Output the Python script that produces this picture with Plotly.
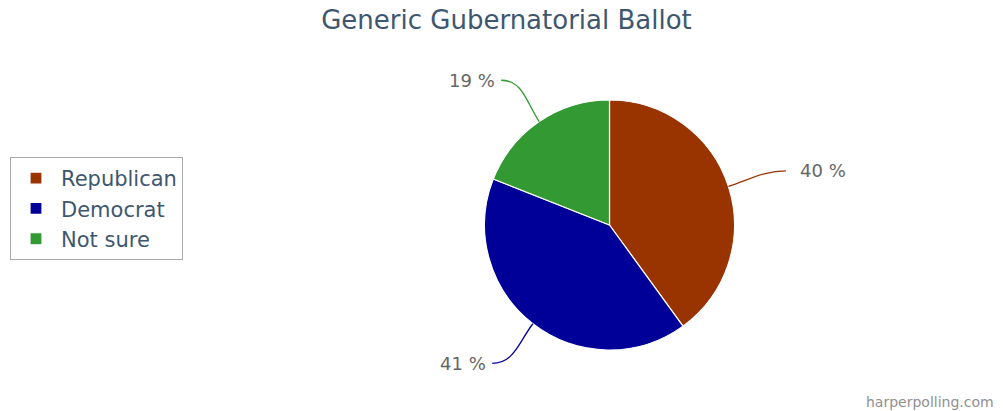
import math
import plotly.graph_objects as go

categories = ["Republican", "Democrat", "Not sure"]
values = [40, 41, 19]
colors = ["#993300", "#000099", "#339933"]
label_texts = [f"{v} %" for v in values]

W, H = 1003, 411
CX, CY, R = 609.5, 225, 125
DIST = 50
FONT = "DejaVu Sans, Verdana, sans-serif"

fig = go.Figure()
fig.add_trace(go.Pie(
    labels=categories, values=values, sort=False, direction="clockwise", rotation=0,
    marker=dict(colors=colors, line=dict(color="#ffffff", width=1.2)),
    textinfo="none", hoverinfo="label+percent",
    domain=dict(x=[(CX - R) / W, (CX + R) / W], y=[(H - CY - R) / H, (H - CY + R) / H]),
))

def px(x, y):
    return x / W, 1 - y / H

total = sum(values)
cum = 0
shapes, annotations = [], []
for v, c, t in zip(values, colors, label_texts):
    mid = (cum + v / 2) / total * 2 * math.pi
    cum += v
    s, co = math.sin(mid), -math.cos(mid)
    side = 1 if s >= 0 else -1
    p0 = (CX + R * s, CY + R * co)
    p2 = (CX + (R + DIST) * s, CY + (R + DIST) * co)
    e = (p2[0] + side * 10, p2[1])
    c1 = (CX + (R + DIST * 0.45) * s, CY + (R + DIST * 0.45) * co)
    c2 = (e[0] - side * 22, e[1])
    pts = [px(*p) for p in (p0, c1, c2, e)]
    path = "M {} {} C {} {}, {} {}, {} {}".format(*[f"{q:.5f}" for pt in pts for q in pt])
    shapes.append(dict(type="path", xref="paper", yref="paper", path=path,
                       line=dict(color=c, width=1.3)))
    lx, ly = px(e[0] + side * (12 if side > 0 else 4), e[1])
    annotations.append(dict(x=lx, y=ly, xref="paper", yref="paper", text=t, showarrow=False,
                            xanchor="left" if side > 0 else "right", yanchor="middle",
                            font=dict(family=FONT, size=18, color="#666666")))

annotations.append(dict(x=996 / W, y=1 - 402 / H, xref="paper", yref="paper",
                        text="harperpolling.com", showarrow=False, xanchor="right", yanchor="middle",
                        font=dict(family=FONT, size=14, color="#909090")))

fig.update_layout(
    width=W, height=H,
    margin=dict(l=0, r=0, t=0, b=0),
    paper_bgcolor="#ffffff", plot_bgcolor="#ffffff",
    title=dict(text="Generic Gubernatorial Ballot", x=0.505, xanchor="center",
               y=1 - 20 / H, yanchor="middle", yref="container",
               font=dict(family=FONT, size=26, color="#3E576F")),
    legend=dict(x=10 / W, y=1 - 157 / H, xanchor="left", yanchor="top",
                bordercolor="#aaaaaa", borderwidth=1, bgcolor="#ffffff",
                font=dict(family=FONT, size=21, color="#3E576F"),
                itemwidth=40, tracegroupgap=0),
    shapes=shapes, annotations=annotations,
)
fig.write_html("out.html", config={"displayModeBar": False},
               post_script="document.body.style.margin='0px';")
